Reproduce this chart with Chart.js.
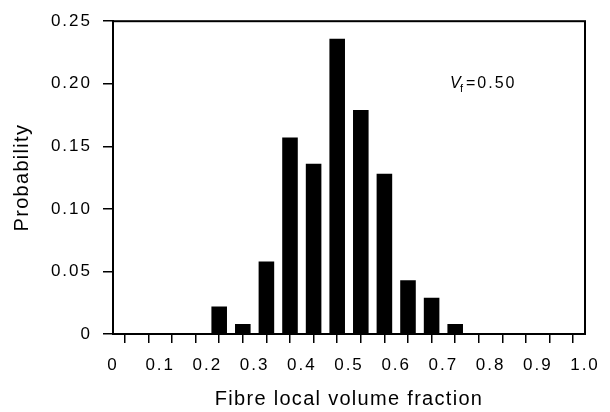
<!DOCTYPE html>
<html>
<head>
<meta charset="utf-8">
<script src="https://cdn.jsdelivr.net/npm/chart.js@4/dist/chart.umd.min.js"></script>
<style>
  html, body { margin: 0; padding: 0; background: #fff; }
  #wrap { width: 610px; height: 412px; }
</style>
</head>
<body>
<div id="wrap"><canvas id="c" width="610" height="412"></canvas></div>
<script>
// Histogram of fibre local volume fraction (bin centres, 0.05 wide bins)
const binCentres = [0.225, 0.275, 0.325, 0.375, 0.425, 0.475, 0.525, 0.575, 0.625, 0.675, 0.725];
const probability = [0.022, 0.008, 0.058, 0.157, 0.136, 0.236, 0.179, 0.128, 0.043, 0.029, 0.008];
const xTickLabels = ['0', '0.1', '0.2', '0.3', '0.4', '0.5', '0.6', '0.7', '0.8', '0.9', '1.0'];
const yTickLabels = ['0', '0.05', '0.10', '0.15', '0.20', '0.25'];
const fibreFraction = '0.50';

const FONT = 'Liberation Sans, Arial, Helvetica, sans-serif';

// Wider letter spacing for axis labels and titles
const spacingPlugin = {
  id: 'spacing',
  beforeDraw(chart) {
    Object.values(chart.scales).forEach(s => {
      if (s._spaced) return;
      const drawTitle = s.drawTitle.bind(s);
      const drawLabels = s.drawLabels.bind(s);
      s.drawTitle = function () {
        const c = this.ctx; c.save(); c.letterSpacing = '1.3px'; drawTitle(); c.restore();
      };
      s.drawLabels = function (area) {
        const c = this.ctx; c.save(); c.letterSpacing = '2px'; drawLabels(area); c.restore();
      };
      s._spaced = true;
    });
  }
};

// Closed frame around the plotting area, plus the Vf annotation
const framePlugin = {
  id: 'frame',
  afterDatasetsDraw(chart) {
    const { ctx, chartArea: a, scales } = chart;
    ctx.save();
    ctx.strokeStyle = '#000';
    ctx.lineWidth = 2;
    ctx.strokeRect(a.left, a.top, a.right - a.left, a.bottom - a.top);

    // V_f = 0.50
    const x = scales.x.getPixelForValue(0.714);
    const y = scales.y.getPixelForValue(0.197);
    ctx.fillStyle = '#000';
    ctx.textBaseline = 'alphabetic';
    ctx.textAlign = 'left';
    ctx.font = 'italic 16px ' + FONT;
    ctx.fillText('V', x, y);
    ctx.font = '11px ' + FONT;
    ctx.fillText('f', x + 10, y + 4);
    ctx.font = '16px ' + FONT;
    ctx.letterSpacing = '2px';
    ctx.fillText('=' + fibreFraction, x + 16, y);
    ctx.restore();
  }
};

new Chart(document.getElementById('c'), {
  type: 'bar',
  data: {
    datasets: [{
      data: binCentres.map((x, i) => ({ x, y: probability[i] })),
      backgroundColor: '#000',
      borderWidth: 0,
      barPercentage: 0.66,
      categoryPercentage: 1.0
    }]
  },
  options: {
    responsive: false,
    animation: false,
    layout: { padding: { top: 18, right: 25, left: 0, bottom: 0 } },
    plugins: { legend: { display: false }, tooltip: { enabled: false } },
    scales: {
      x: {
        type: 'linear',
        offset: false,
        min: 0,
        max: 1,
        afterFit(s) { s.height = 78; },
        afterBuildTicks(s) {
          const t = [];
          for (let i = 0; i <= 20; i++) t.push({ value: i * 0.05 });
          s.ticks = t;
        },
        ticks: {
          color: '#000',
          font: { family: FONT, size: 17 },
          padding: 12,
          maxRotation: 0,
          autoSkip: false,
          callback(v, i) { return i % 2 === 0 ? xTickLabels[i / 2] : ''; }
        },
        grid: {
          drawOnChartArea: false,
          drawTicks: true,
          tickLength: 9,
          color: '#000',
          lineWidth: 1.5
        },
        border: { display: true, color: '#000', width: 2 },
        title: {
          display: true,
          text: 'Fibre local volume fraction',
          color: '#000',
          font: { family: FONT, size: 20 },
          padding: { top: 0, bottom: 1 }
        }
      },
      y: {
        min: 0,
        max: 0.25,
        afterFit(s) { s.width = 113; },
        afterBuildTicks(s) {
          s.ticks = yTickLabels.map(l => ({ value: parseFloat(l) }));
        },
        ticks: {
          color: '#000',
          font: { family: FONT, size: 17 },
          padding: 11,
          autoSkip: false,
          callback(v, i) { return yTickLabels[i]; }
        },
        grid: {
          drawOnChartArea: false,
          drawTicks: true,
          tickLength: 10,
          color: '#000',
          lineWidth: 1.5
        },
        border: { display: true, color: '#000', width: 2 },
        title: {
          display: true,
          text: 'Probability',
          color: '#000',
          font: { family: FONT, size: 20 },
          padding: { top: 10, bottom: 0 }
        }
      }
    }
  },
  plugins: [spacingPlugin, framePlugin]
});
</script>
</body>
</html>
